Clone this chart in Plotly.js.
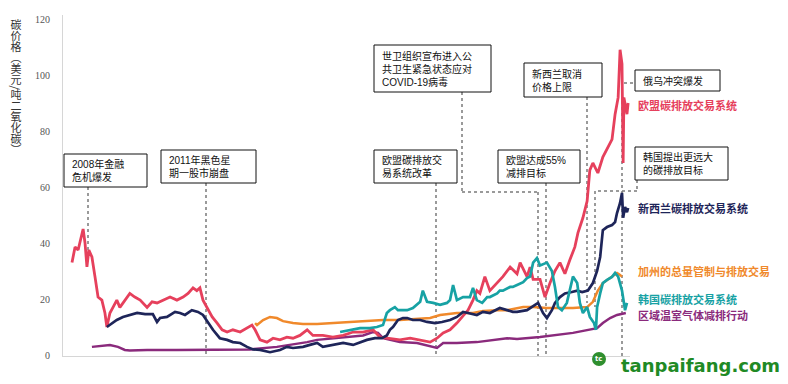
<!DOCTYPE html>
<html><head><meta charset="utf-8">
<script src="https://cdn.plot.ly/plotly-3.0.1.min.js"></script>
<style>html,body{margin:0;padding:0;background:#fff}#chart{width:788px;height:384px}</style>
</head><body><div id="chart"></div>
<script>
// ---- data (decimal years, USD per tonne CO2) ----
const euT = [2008.00,2008.08,2008.16,2008.29,2008.34,2008.39,2008.44,2008.52,2008.60,2008.68,2008.78,2008.86,2008.91,2008.99,2009.07,2009.17,2009.25,2009.38,2009.51,2009.64,2009.78,2009.96,2010.09,2010.22,2010.38,2010.56,2010.74,2010.90,2011.03,2011.16,2011.26,2011.34,2011.42,2011.52,2011.66,2011.79,2011.92,2012.05,2012.20,2012.39,2012.57,2012.70,2012.78,2012.91,2013.09,2013.25,2013.43,2013.61,2013.77,2013.95,2014.14,2014.29,2014.55,2014.81,2015.08,2015.34,2015.60,2015.86,2016.04,2016.30,2016.56,2016.83,2017.09,2017.35,2017.53,2017.69,2017.87,2018.05,2018.21,2018.34,2018.47,2018.57,2018.65,2018.78,2018.91,2019.10,2019.25,2019.44,2019.62,2019.70,2019.88,2019.96,2020.04,2020.22,2020.35,2020.48,2020.61,2020.74,2020.87,2021.00,2021.13,2021.21,2021.34,2021.45,2021.52,2021.60,2021.73,2021.86,2021.99,2022.10,2022.18,2022.26,2022.31,2022.36,2022.39,2022.41,2022.49,2022.52];
const euV = [33,38.6,37.5,45,40,31.5,37.5,35,28,20.7,19.6,15,10,15,17,19.6,17,19.6,22,20.7,19.6,17,19,18.6,19.6,20.7,19.6,20.7,22,24,23,24,19.6,17,13.6,11.4,9,8.2,9,8.2,9.6,10.7,9,5.4,4.6,6,5.4,6.4,6,7,9,7,7,6.4,7,8.2,8.2,9,6.4,6,5.4,6,5.4,4.6,6,7.9,9,11.4,14,16,19.6,23,22,28,23,25.7,28,31.4,29,33,28,31.4,27,27,20.7,25.7,30,33,29,34,38.6,43.6,49,55,66,68.6,65,70.7,74,77,86,92,109,104,68.6,92,86,90];

const nzT = [2008.91,2009.04,2009.17,2009.33,2009.51,2009.70,2009.91,2010.11,2010.22,2010.30,2010.48,2010.69,2010.82,2010.95,2011.13,2011.29,2011.42,2011.55,2011.68,2011.86,2012.05,2012.20,2012.39,2012.57,2012.73,2012.91,2013.17,2013.43,2013.61,2013.77,2014.03,2014.21,2014.40,2014.55,2014.81,2015.08,2015.34,2015.52,2015.70,2015.91,2016.09,2016.22,2016.30,2016.38,2016.51,2016.64,2016.75,2016.90,2017.09,2017.27,2017.48,2017.66,2017.87,2018.05,2018.21,2018.34,2018.57,2018.73,2018.91,2019.17,2019.36,2019.51,2019.62,2019.88,2020.09,2020.17,2020.30,2020.40,2020.53,2020.61,2020.74,2020.87,2021.05,2021.19,2021.32,2021.47,2021.60,2021.71,2021.79,2021.86,2021.97,2022.10,2022.18,2022.23,2022.31,2022.36,2022.39,2022.44,2022.49,2022.52];
const nzV = [10,11.4,12.5,13.6,14.3,15,14.6,14.6,11.8,13.2,13.6,15.4,15,14.3,16,15.4,14.3,11.8,9,6,5.4,4.6,4.3,2.9,2,1.8,1,1.8,2.9,2.5,2.9,3.6,4.3,2.9,3.6,4.3,3.6,4.6,5.4,6,6,7,9,10,12.5,13.2,13.2,12.5,12.5,11.8,11.4,11.8,12.5,13.6,15.4,15,14.3,15.4,15,16.8,16,15.4,15.4,16,17.9,18.6,15,13.2,16,18.6,20.7,22,22.5,23,22.5,23,25.7,30,35,44.6,45.7,46.4,47.5,50.7,54.3,57.9,49,52.9,51,52.5];

const caT = [2012.78,2012.83,2012.99,2013.17,2013.35,2013.51,2013.77,2014.03,2014.40,2014.81,2015.26,2015.70,2016.12,2016.56,2017.01,2017.35,2017.61,2018.05,2018.47,2018.73,2019.10,2019.36,2019.78,2020.04,2020.40,2020.66,2021.08,2021.45,2021.60,2021.73,2021.86,2022.05,2022.23,2022.31,2022.36];
const caV = [11.4,10.7,12.5,13.6,13.2,12.1,11.4,11.1,11.1,11.4,11.8,12.1,12.5,12.5,12.9,13.2,14.3,15,15,15.7,16,16,17.1,17.1,16.8,16.8,16.8,17.1,19,23,25.7,27.5,29.3,28.6,28];

const krT = [2015.00,2015.26,2015.52,2015.78,2015.96,2016.12,2016.22,2016.30,2016.38,2016.43,2016.51,2016.75,2016.90,2017.09,2017.16,2017.27,2017.43,2017.61,2017.79,2017.87,2017.95,2018.05,2018.21,2018.39,2018.47,2018.57,2018.71,2018.84,2018.91,2019.10,2019.17,2019.25,2019.44,2019.51,2019.62,2019.78,2019.88,2019.96,2020.04,2020.14,2020.22,2020.40,2020.53,2020.61,2020.69,2020.79,2020.92,2021.08,2021.19,2021.26,2021.34,2021.45,2021.52,2021.63,2021.68,2021.71,2021.79,2021.86,2021.97,2022.10,2022.18,2022.26,2022.36,2022.39,2022.44,2022.49];
const krV = [8.2,9,9.6,9.6,10,10.7,15,16,16.8,17.1,16,16,16.8,19,23,19,18.6,17.9,18.6,19.6,25,19.6,20.7,20.7,24,19.6,18.6,20.7,20.7,22,23,23,24.3,24.3,25,26,27.5,28,33,34.6,32,33,30,24.3,17.1,16,18.6,28,25.7,18.6,15,17.1,13.6,11.4,9,17.1,22,25.7,26.8,27.9,29.3,28,23,19.6,16,18.6];

const rgT = [2008.52,2008.73,2008.99,2009.20,2009.38,2009.51,2009.96,2010.74,2011.86,2012.65,2013.35,2013.69,2014.14,2014.40,2014.81,2015.26,2015.60,2015.86,2015.99,2016.12,2016.30,2016.56,2017.01,2017.43,2017.53,2017.69,2018.05,2018.57,2019.10,2019.36,2019.62,2020.22,2021.08,2021.52,2021.71,2021.86,2022.05,2022.23,2022.39,2022.46];
const rgV = [2.9,3.2,3.6,2.9,1.8,1.6,1.8,1.8,1.9,2,2.9,3.6,4.6,5.4,6,6.4,7,8.2,7.9,6,5.4,4.6,4.3,2.9,2.5,4.3,4.3,4.6,5.4,6,5.7,6.4,7.9,9,9.6,11.4,13.2,14.3,14.6,15];

const seriesNames = ['欧盟碳排放交易系统','新西兰碳排放交易系统','加州的总量管制与排放交易','韩国碳排放交易系统','区域温室气体减排行动'];
const yTicks = [0,20,40,60,80,100,120];
const yTitle = '碳价格（美元/吨二氧化碳）';
const events = [
  ['2008年金融','危机爆发'],
  ['2011年黑色星','期一股市崩盘'],
  ['世卫组织宣布进入公','共卫生紧急状态应对','COVID-19病毒'],
  ['新西兰取消','价格上限'],
  ['欧盟碳排放交','易系统改革'],
  ['欧盟达成55%','减排目标'],
  ['俄乌冲突爆发'],
  ['韩国提出更远大','的碳排放目标']
];

// ---- layout helpers (pixel -> paper) ----
const L = 63, R = 630, T = 15, B = 356;
const px = x => (x - L) / (R - L);
const py = y => (B - y) / (B - T);
const CJK = "'Noto Sans CJK SC', 'Noto Sans', sans-serif";
const BOXF = "'Liberation Sans', 'Noto Sans CJK SC', sans-serif";
const colors = {eu:'#e6405c', nz:'#1e2559', ca:'#f0892b', kr:'#17a2a4', rg:'#8a2a7c'};

function tr(x, y, c, w){ return {x:x, y:y, type:'scatter', mode:'lines', line:{color:c, width:w}, hoverinfo:'skip', showlegend:false}; }
const data = [
  tr(rgT, rgV, colors.rg, 2.5),
  tr(caT, caV, colors.ca, 2.5),
  tr(euT, euV, colors.eu, 2.8),
  tr(nzT, nzV, colors.nz, 2.7),
  tr(krT, krV, colors.kr, 2.7)
];

const shapes = [];
const annotations = [];
function dash(x0,y0,x1,y1){ shapes.push({type:'line', xref:'paper', yref:'paper', x0:px(x0), y0:py(y0), x1:px(x1), y1:py(y1), line:{color:'#7a7a7a', width:1.5, dash:'dot'}, layer:'below'}); }
dash(88,187,88,252);
dash(206,183,206,356);
dash(462,92,462,192); dash(462,192,538,192); dash(538,192,538,356);
dash(436,183,436,356);
dash(546,183,546,356);
dash(587,97,587,303);
dash(637,180,637,191); dash(637,191,595,191); dash(595,191,595,307);
dash(633,83,622,83); dash(622,83,622,356);

// boxes: [x0,y0,x1,y1,textX]
const boxes = [
  [64,154,147,187,71],
  [161,150,256,183,168],
  [374,45,491,92,381],
  [524,63,602,97,531],
  [374,150,457,183,381],
  [498,150,580,183,505],
  [635,70,720,91,642],
  [635,147,728,180,642]
];
boxes.forEach((b,i)=>{
  shapes.push({type:'rect', xref:'paper', yref:'paper', x0:px(b[0]), x1:px(b[2]), y0:py(b[3]), y1:py(b[1]), line:{color:'#111', width:1}, fillcolor:'#fff', layer:'above'});
  annotations.push({xref:'paper', yref:'paper', x:px(b[4]), y:py((b[1]+b[3])/2), xanchor:'left', yanchor:'middle', align:'left', showarrow:false, text:events[i].join('<br>'), font:{family:BOXF, size:10, color:'#111'}, borderpad:0});
});

// series labels
const labY = [105,208,271,299,315];
const labC = [colors.eu, colors.nz, colors.ca, colors.kr, colors.rg];
seriesNames.forEach((n,i)=>{
  annotations.push({xref:'paper', yref:'paper', x:px(636), y:py(labY[i]), xanchor:'left', yanchor:'middle', showarrow:false, text:'<b>'+n+'</b>', font:{family:CJK, size:11, color:labC[i]}});
});

// y-axis title (set to vertical writing mode after render)
annotations.push({xref:'paper', yref:'paper', x:px(16), y:py(88), xanchor:'center', yanchor:'middle', showarrow:false,
  text:yTitle, font:{family:CJK, size:11, color:'#333'}, borderpad:0});

// watermark
shapes.push({type:'circle', xref:'paper', yref:'paper', x0:px(592), x1:px(606), y0:py(366), y1:py(352), fillcolor:'#2f8f2f', line:{width:0}, layer:'above'});
annotations.push({xref:'paper', yref:'paper', x:px(599), y:py(359), xanchor:'center', yanchor:'middle', showarrow:false, text:'<b>tc</b>', font:{family:'DejaVu Sans', size:7, color:'#fff'}});
annotations.push({xref:'paper', yref:'paper', x:px(619), y:py(365), xanchor:'left', yanchor:'middle', showarrow:false, text:'<b>tanpaifang.com</b>', font:{family:'DejaVu Sans', size:18, color:'#1f8a25'}});

const layout = {
  width:788, height:384,
  margin:{l:L, r:788-R, t:T, b:384-B, pad:0},
  paper_bgcolor:'#fff', plot_bgcolor:'#fff',
  showlegend:false,
  xaxis:{range:[2008 + (L-72)/38.3, 2008 + (R-72)/38.3], showticklabels:false, ticks:'', showgrid:false, zeroline:false, showline:true, linecolor:'#d6d6d6', linewidth:1},
  yaxis:{range:[(355-B)/2.8, (355-T)/2.8], tickvals:yTicks, ticktext:yTicks.map(String), ticks:'', ticklabelstandoff:10, showgrid:false, zeroline:false, showline:true, linecolor:'#d6d6d6', linewidth:1, tickfont:{family:"'Liberation Serif', serif", size:10, color:'#555'}},
  shapes:shapes,
  annotations:annotations
};
Plotly.newPlot('chart', data, layout, {staticPlot:true, displayModeBar:false}).then(gd=>{
  gd.querySelectorAll('text.annotation-text').forEach(t=>{
    if (t.textContent === yTitle) {
      t.style.writingMode = 'vertical-rl';
      t.setAttribute('text-anchor','middle');
      const r = t.getBoundingClientRect();
      const g = gd.getBoundingClientRect();
      const dx = 16 - (r.left - g.left + r.width/2);
      const dy = 87 - (r.top - g.top + r.height/2);
      const old = t.getAttribute('transform') || '';
      t.setAttribute('transform', 'translate(' + dx + ',' + dy + ') ' + old);
    }
  });
});
</script>
</body></html>
